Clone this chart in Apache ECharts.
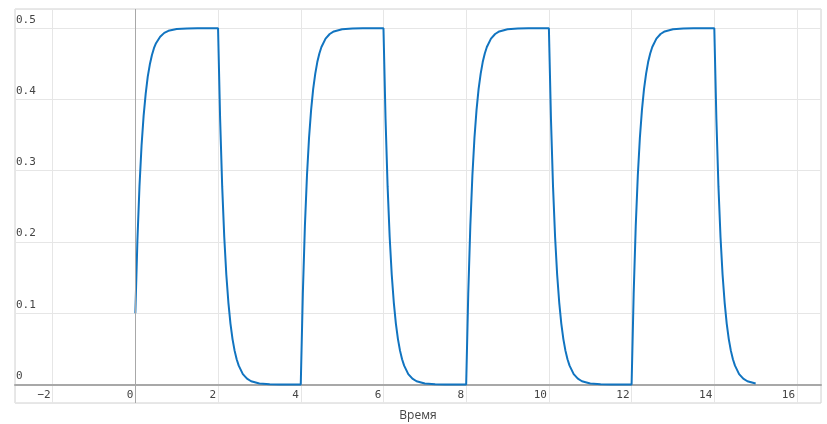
<!DOCTYPE html>
<html><head><meta charset="utf-8">
<script src="https://cdn.jsdelivr.net/npm/echarts@6/dist/echarts.min.js"></script>
<style>html,body{margin:0;padding:0;background:#fff}#c{width:827px;height:424px}</style>
</head><body><div id="c"></div>
<script>
// Segment times (Время) and values
const tRise1 = [0,0.05,0.1,0.15,0.2,0.25,0.3,0.35,0.4,0.45,0.5,0.6,0.7,0.8,1,1.25,1.5,1.75];
const vRise1 = [0.1,0.202,0.278,0.335,0.377,0.408,0.432,0.449,0.462,0.472,0.479,0.488,0.4935,0.4964,0.4989,0.4997,0.4999,0.5];
const tFall1 = [2,2.05,2.1,2.15,2.2,2.25,2.3,2.35,2.4,2.45,2.5,2.6,2.7,2.8,3,3.25,3.5,3.75];
const vFall1 = [0.5,0.373,0.278,0.207,0.154,0.115,0.0855,0.0637,0.0475,0.0354,0.0264,0.0146,0.0081,0.0045,0.0014,0.0003,0.0001,0];
const tRise2 = [4,4.05,4.1,4.15,4.2,4.25,4.3,4.35,4.4,4.45,4.5,4.6,4.7,4.8,5,5.25,5.5,5.75];
const vRise2 = [0,0.127,0.222,0.293,0.346,0.385,0.4145,0.436,0.4525,0.4646,0.4736,0.4854,0.4919,0.4955,0.4986,0.4997,0.4999,0.5];
const tFall2 = [6,6.05,6.1,6.15,6.2,6.25,6.3,6.35,6.4,6.45,6.5,6.6,6.7,6.8,7,7.25,7.5,7.75];
const vFall2 = [0.5,0.373,0.278,0.207,0.154,0.115,0.0855,0.0637,0.0475,0.0354,0.0264,0.0146,0.0081,0.0045,0.0014,0.0003,0.0001,0];
const tRise3 = [8,8.05,8.1,8.15,8.2,8.25,8.3,8.35,8.4,8.45,8.5,8.6,8.7,8.8,9,9.25,9.5,9.75];
const vRise3 = [0,0.127,0.222,0.293,0.346,0.385,0.4145,0.436,0.4525,0.4646,0.4736,0.4854,0.4919,0.4955,0.4986,0.4997,0.4999,0.5];
const tFall3 = [10,10.05,10.1,10.15,10.2,10.25,10.3,10.35,10.4,10.45,10.5,10.6,10.7,10.8,11,11.25,11.5,11.75];
const vFall3 = [0.5,0.373,0.278,0.207,0.154,0.115,0.0855,0.0637,0.0475,0.0354,0.0264,0.0146,0.0081,0.0045,0.0014,0.0003,0.0001,0];
const tRise4 = [12,12.05,12.1,12.15,12.2,12.25,12.3,12.35,12.4,12.45,12.5,12.6,12.7,12.8,13,13.25,13.5,13.75];
const vRise4 = [0,0.127,0.222,0.293,0.346,0.385,0.4145,0.436,0.4525,0.4646,0.4736,0.4854,0.4919,0.4955,0.4986,0.4997,0.4999,0.5];
const tFall4 = [14,14.05,14.1,14.15,14.2,14.25,14.3,14.35,14.4,14.45,14.5,14.6,14.7,14.8,15];
const vFall4 = [0.5,0.373,0.278,0.207,0.154,0.115,0.0855,0.0637,0.0475,0.0354,0.0264,0.0146,0.0081,0.0045,0.0014];

const xTitle = 'Время';

const times = [].concat(tRise1,tFall1,tRise2,tFall2,tRise3,tFall3,tRise4,tFall4);
const values = [].concat(vRise1,vFall1,vRise2,vFall2,vRise3,vFall3,vRise4,vFall4);
const data = times.map((t,i)=>[t, values[i]]);

const mono = 'DejaVu Sans Mono';
const chart = echarts.init(document.getElementById('c'), null, {renderer:'canvas'});
chart.setOption({
  animation:false,
  grid:{left:15, top:9, right:6, bottom:21, show:true, borderColor:'#d0d0d0', borderWidth:1, containLabel:false, outerBoundsMode:'none'},
  xAxis:{
    type:'value', min:-2.91, max:16.58, splitNumber:10,
    name:xTitle, nameLocation:'middle', nameGap:7,
    nameTextStyle:{fontFamily:'Open Sans', fontSize:12, color:'#444', verticalAlign:'top'},
    axisLine:{show:true, onZero:true, lineStyle:{color:'#a8a8a8', width:2}},
    axisTick:{show:false},
    axisLabel:{inside:true, showMinLabel:false, showMaxLabel:false, align:'right', verticalAlign:'bottom', margin:2, padding:[0,2,0,0],
      fontFamily:mono, fontSize:11, color:'#444',
      formatter:v=> v<0 ? '\u2212'+(-v) : String(v)},
    splitLine:{show:true, lineStyle:{color:'#e6e6e6', width:1}}
  },
  yAxis:{
    type:'value', min:-0.026, max:0.527, splitNumber:5,
    axisLine:{show:false}, axisTick:{show:false},
    axisLabel:{inside:true, showMinLabel:false, showMaxLabel:false, align:'left', verticalAlign:'bottom',
      margin:1, padding:[0,0,3,0], fontFamily:mono, fontSize:11, color:'#444',
      formatter:v=> String(Math.round(v*10)/10)},
    splitLine:{show:true, lineStyle:{color:'#e6e6e6', width:1}}
  },
  series:[{
    type:'line', data:data, showSymbol:false, smooth:false,
    lineStyle:{color:'#1174c0', width:2}, itemStyle:{color:'#1174c0'},
    markLine:{silent:true, symbol:['none','none'], label:{show:false},
      lineStyle:{color:'#a8a8a8', width:1, type:'solid'}, data:[{xAxis:0}]},
    z:3
  }]
});
</script></body></html>
